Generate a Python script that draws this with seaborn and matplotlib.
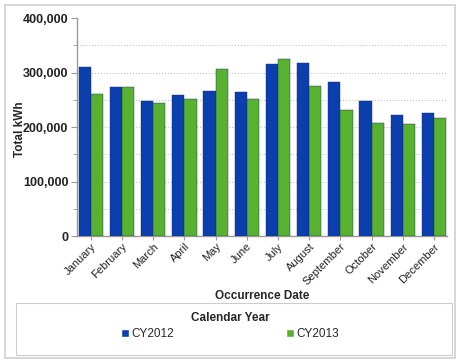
import matplotlib
matplotlib.use("Agg")
import matplotlib.pyplot as plt
import seaborn as sns
import pandas as pd
from matplotlib.patches import Rectangle
from matplotlib.ticker import MultipleLocator, FuncFormatter

months = ["January", "February", "March", "April", "May", "June", "July",
          "August", "September", "October", "November", "December"]
cy2012 = [310000, 274000, 247000, 259000, 266000, 264000, 316000, 317000, 283000, 247000, 222000, 225000]
cy2013 = [260000, 274000, 245000, 252000, 307000, 251000, 325000, 276000, 232000, 208000, 206000, 217000]
series = ["CY2012", "CY2013"]
colors = ["#0b3fae", "#58b12f"]

df = pd.DataFrame({
    "Month": months * 2,
    "kWh": cy2012 + cy2013,
    "Year": [series[0]] * len(months) + [series[1]] * len(months),
})

sns.set_style("white")
plt.rcParams["font.family"] = ["Liberation Sans", "DejaVu Sans"]

fig = plt.figure(figsize=(4.6, 3.62), dpi=100)
ax = fig.add_axes([0.167, 0.348, 0.805, 0.602])

sns.barplot(data=df, x="Month", y="kWh", hue="Year", palette=colors,
            width=0.78, saturation=1, ax=ax, legend=False, zorder=3,
            edgecolor="#1a2a6a", linewidth=0.3)

ax.set_ylim(0, 400000)
ax.set_xlim(-0.45, 11.42)
ax.yaxis.set_major_locator(MultipleLocator(100000))
ax.yaxis.set_minor_locator(MultipleLocator(50000))
ax.yaxis.set_major_formatter(FuncFormatter(lambda v, p: f"{int(v):,}"))
for y in range(50000, 400000, 50000):
    ax.axhline(y, color="#bbbbbb", linestyle=(0, (1, 2)), linewidth=0.7, zorder=1)

for s in ["top", "right"]:
    ax.spines[s].set_visible(False)
for s in ["left", "bottom"]:
    ax.spines[s].set_color("#999999")
    ax.spines[s].set_linewidth(1.0)

ax.tick_params(axis="y", which="major", length=4, color="#999999", labelsize=9, pad=2, left=True)
ax.tick_params(axis="y", which="minor", length=3, color="#999999", left=True)
ax.tick_params(axis="x", length=3, color="#999999", labelsize=8, pad=1, bottom=True)
for lab in ax.get_yticklabels():
    lab.set_fontweight("bold")
    lab.set_color("#222222")
plt.setp(ax.get_xticklabels(), rotation=45, ha="right", rotation_mode="anchor", color="#222222")

ax.set_ylabel("Total kWh", fontsize=8.5, fontweight="bold")
ax.yaxis.set_label_coords(-0.137, 0.49)
ax.set_xlabel("")
fig.text(0.57, 1 - 296 / 362, "Occurrence Date", ha="center", va="center",
         fontsize=8.5, fontweight="bold")

# outer frame
fig.patches.append(Rectangle((5 / 460, 4 / 362), 450 / 460, 353 / 362, transform=fig.transFigure,
                             fill=False, edgecolor="#cfcfcf", linewidth=1.2))
# legend box
fig.patches.append(Rectangle((16 / 460, 7 / 362), 436 / 460, 52 / 362, transform=fig.transFigure,
                             fill=False, edgecolor="#cccccc", linewidth=0.8))

handles = [Rectangle((0, 0), 1, 1, facecolor=c) for c in colors]
leg = fig.legend(handles, series, title="Calendar Year", ncol=2, frameon=False,
                 loc="upper center", bbox_to_anchor=(0.5, 1 - 304 / 362),
                 fontsize=8.5, title_fontproperties={"weight": "bold", "size": 8.5},
                 handlelength=0.7, handleheight=0.7, handletextpad=0.2,
                 columnspacing=9.5, borderpad=0.2, labelspacing=0.3)

fig.savefig("out.png", dpi=100)
